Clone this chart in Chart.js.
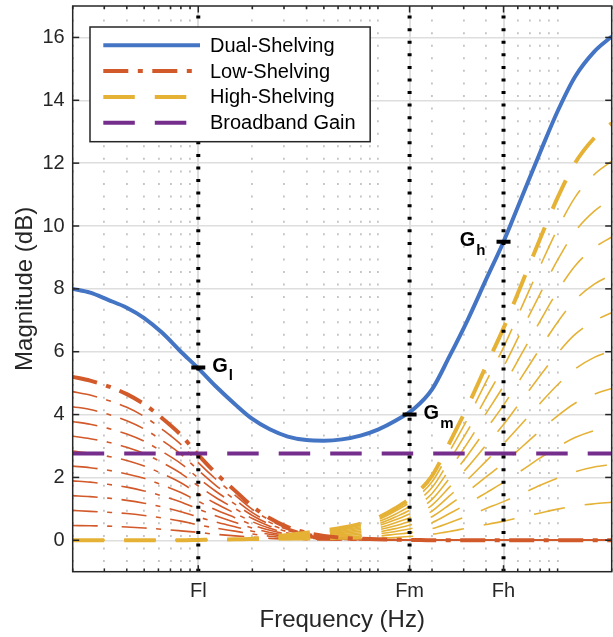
<!DOCTYPE html>
<html>
<head>
<meta charset="utf-8">
<script src="https://cdn.jsdelivr.net/npm/chart.js@4.4.0/dist/chart.umd.min.js"></script>
<style>
  html, body { margin: 0; padding: 0; background: #fff; }
</style>
</head>
<body>
<canvas id="shelfChart" width="613" height="637"></canvas>
<script>
// Third-octave frequencies used for every response curve (Hz)
const freqs = [20, 25, 31.5, 40, 50, 63, 80, 100, 125, 160, 200, 250, 315, 400, 500, 630, 800,
  1000, 1250, 1600, 2000, 2500, 3150, 4000, 5000, 6300, 8000, 10000, 12500, 16000, 20000];

// Magnitude responses (dB)
const dualShelving = [8.0, 7.88, 7.65, 7.4, 7.07, 6.6, 6.0, 5.47, 4.9, 4.33, 3.86, 3.53, 3.3, 3.19, 3.17, 3.21, 3.33,
  3.52, 3.8, 4.2, 4.8, 5.85, 7.0, 8.3, 9.5, 10.9, 12.35, 13.65, 14.75, 15.55, 16.03];
const lowShelving = [5.2, 5.08, 4.9, 4.65, 4.33, 3.88, 3.35, 2.72, 2.14, 1.58, 1.08, 0.7, 0.42, 0.24, 0.14, 0.08, 0.05,
  0.03, 0.02, 0.01, 0, 0, 0, 0, 0, 0, 0, 0, 0, 0, 0];
const highShelving = [0, 0, 0, 0, 0, 0, 0, 0.01, 0.02, 0.03, 0.05, 0.1, 0.17, 0.24, 0.31, 0.4, 0.53,
  0.72, 1.02, 1.45, 2.05, 3.1, 4.25, 5.55, 6.75, 8.15, 9.6, 10.9, 12.0, 12.8, 13.27];
const broadbandFreqs = [20, 20000];
const broadbandGain = [2.76, 2.76];

// Intermediate low-shelf responses, smallest gain first
const lowShelvingSteps = [
  [0.47, 0.46, 0.45, 0.42, 0.39, 0.35, 0.30, 0.25, 0.19, 0.14, 0.10, 0.06, 0.04, 0.02, 0.01, 0.01, 0, 0, 0, 0, 0, 0, 0, 0, 0, 0, 0, 0, 0, 0, 0],
  [0.95, 0.92, 0.89, 0.85, 0.79, 0.71, 0.61, 0.49, 0.39, 0.29, 0.20, 0.13, 0.08, 0.04, 0.03, 0.01, 0.01, 0.01, 0, 0, 0, 0, 0, 0, 0, 0, 0, 0, 0, 0, 0],
  [1.42, 1.39, 1.34, 1.27, 1.18, 1.06, 0.91, 0.74, 0.58, 0.43, 0.29, 0.19, 0.11, 0.07, 0.04, 0.02, 0.01, 0.01, 0.01, 0, 0, 0, 0, 0, 0, 0, 0, 0, 0, 0, 0],
  [1.89, 1.85, 1.78, 1.69, 1.57, 1.41, 1.22, 0.99, 0.78, 0.57, 0.39, 0.25, 0.15, 0.09, 0.05, 0.03, 0.02, 0.01, 0.01, 0, 0, 0, 0, 0, 0, 0, 0, 0, 0, 0, 0],
  [2.36, 2.31, 2.23, 2.11, 1.97, 1.76, 1.52, 1.24, 0.97, 0.72, 0.49, 0.32, 0.19, 0.11, 0.06, 0.04, 0.02, 0.01, 0.01, 0, 0, 0, 0, 0, 0, 0, 0, 0, 0, 0, 0],
  [2.84, 2.77, 2.67, 2.54, 2.36, 2.12, 1.83, 1.48, 1.17, 0.86, 0.59, 0.38, 0.23, 0.13, 0.08, 0.04, 0.03, 0.02, 0.01, 0.01, 0, 0, 0, 0, 0, 0, 0, 0, 0, 0, 0],
  [3.31, 3.23, 3.12, 2.96, 2.76, 2.47, 2.13, 1.73, 1.36, 1.01, 0.69, 0.45, 0.27, 0.15, 0.09, 0.05, 0.03, 0.02, 0.01, 0.01, 0, 0, 0, 0, 0, 0, 0, 0, 0, 0, 0],
  [3.78, 3.69, 3.56, 3.38, 3.15, 2.82, 2.44, 1.98, 1.56, 1.15, 0.79, 0.51, 0.31, 0.17, 0.10, 0.06, 0.04, 0.02, 0.01, 0.01, 0, 0, 0, 0, 0, 0, 0, 0, 0, 0, 0],
  [4.25, 4.16, 4.01, 3.80, 3.54, 3.17, 2.74, 2.23, 1.75, 1.29, 0.88, 0.57, 0.34, 0.20, 0.11, 0.07, 0.04, 0.02, 0.02, 0.01, 0, 0, 0, 0, 0, 0, 0, 0, 0, 0, 0],
  [4.73, 4.62, 4.45, 4.23, 3.94, 3.53, 3.05, 2.47, 1.95, 1.44, 0.98, 0.64, 0.38, 0.22, 0.13, 0.07, 0.05, 0.03, 0.02, 0.01, 0, 0, 0, 0, 0, 0, 0, 0, 0, 0, 0]
];

// Intermediate high-shelf responses, smallest gain first
const highShelvingSteps = [
  [0, 0, 0, 0, 0, 0, 0, 0, 0, 0, 0, 0.01, 0.02, 0.02, 0.03, 0.04, 0.05, 0.07, 0.09, 0.13, 0.19, 0.28, 0.39, 0.50, 0.61, 0.74, 0.87, 0.99, 1.09, 1.16, 1.21],
  [0, 0, 0, 0, 0, 0, 0, 0, 0, 0.01, 0.01, 0.02, 0.03, 0.04, 0.06, 0.07, 0.10, 0.13, 0.19, 0.26, 0.37, 0.56, 0.77, 1.01, 1.23, 1.48, 1.75, 1.98, 2.18, 2.33, 2.41],
  [0, 0, 0, 0, 0, 0, 0, 0, 0.01, 0.01, 0.01, 0.03, 0.05, 0.07, 0.08, 0.11, 0.14, 0.20, 0.28, 0.40, 0.56, 0.85, 1.16, 1.51, 1.84, 2.22, 2.62, 2.97, 3.27, 3.49, 3.62],
  [0, 0, 0, 0, 0, 0, 0, 0, 0.01, 0.01, 0.02, 0.04, 0.06, 0.09, 0.11, 0.15, 0.19, 0.26, 0.37, 0.53, 0.75, 1.13, 1.55, 2.02, 2.45, 2.96, 3.49, 3.96, 4.36, 4.65, 4.83],
  [0, 0, 0, 0, 0, 0, 0, 0, 0.01, 0.01, 0.02, 0.05, 0.08, 0.11, 0.14, 0.18, 0.24, 0.33, 0.46, 0.66, 0.93, 1.41, 1.93, 2.52, 3.07, 3.70, 4.36, 4.95, 5.45, 5.82, 6.03],
  [0, 0, 0, 0, 0, 0, 0, 0.01, 0.01, 0.02, 0.03, 0.05, 0.09, 0.13, 0.17, 0.22, 0.29, 0.39, 0.56, 0.79, 1.12, 1.69, 2.32, 3.03, 3.68, 4.45, 5.24, 5.95, 6.55, 6.98, 7.24],
  [0, 0, 0, 0, 0, 0, 0, 0.01, 0.01, 0.02, 0.03, 0.06, 0.11, 0.15, 0.20, 0.25, 0.34, 0.46, 0.65, 0.92, 1.30, 1.97, 2.70, 3.53, 4.30, 5.19, 6.11, 6.94, 7.64, 8.15, 8.45],
  [0, 0, 0, 0, 0, 0, 0, 0.01, 0.01, 0.02, 0.04, 0.07, 0.12, 0.17, 0.23, 0.29, 0.39, 0.52, 0.74, 1.05, 1.49, 2.25, 3.09, 4.04, 4.91, 5.93, 6.98, 7.93, 8.73, 9.31, 9.65],
  [0, 0, 0, 0, 0, 0, 0, 0.01, 0.02, 0.02, 0.04, 0.08, 0.14, 0.20, 0.25, 0.33, 0.43, 0.59, 0.83, 1.19, 1.68, 2.54, 3.48, 4.54, 5.52, 6.67, 7.85, 8.92, 9.82, 10.47, 10.86],
  [0, 0, 0, 0, 0, 0, 0, 0.01, 0.02, 0.03, 0.05, 0.09, 0.15, 0.22, 0.28, 0.36, 0.48, 0.65, 0.93, 1.32, 1.86, 2.82, 3.86, 5.05, 6.14, 7.41, 8.73, 9.91, 10.91, 11.64, 12.06]
];

// Band frequencies, their tick labels and the gains set at each band
const bandFreqs = [100, 1500, 5000];
const bandLabels = ['Fl', 'Fm', 'Fh'];
const bandGains = [5.5, 4.0, 9.5];
const gainSubscripts = ['l', 'm', 'h'];

// Axis limits and magnitude ticks
const freqRange = [20, 20000];
const magRange = [-1, 17];
const magTicks = [0, 2, 4, 6, 8, 10, 12, 14, 16];

const FONT = "'Liberation Sans', Arial, Helvetica, sans-serif";
const AXIS_COLOR = '#262626';
const BLUE = '#4474C4';
const ORANGE = '#D2592A';
const YELLOW = '#E5B236';
const PURPLE = '#762E8D';
const DASH_LONG = [31.5, 20];
const DASH_DOT = [25, 9.5, 5, 9.5];

const toPoints = (xs, ys) => xs.map((f, i) => ({ x: f, y: ys[i] }));
const isBand = (v) => bandFreqs.includes(v);

function curve(values, color, width, dash, order, extra = {}) {
  return {
    data: toPoints(freqs, values),
    borderColor: color,
    borderWidth: width,
    borderDash: dash,
    borderCapStyle: 'butt',
    pointRadius: 0,
    fill: false,
    cubicInterpolationMode: 'monotone',
    order,
    ...extra,
  };
}

const datasets = [];

// gain markers on top of everything
datasets.push({
  data: toPoints(bandFreqs, bandGains),
  showLine: false,
  pointStyle: 'line',
  pointRadius: 7,
  pointBorderWidth: 4,
  pointBorderColor: '#000',
  pointBackgroundColor: '#000',
  order: 0,
});

// dotted band markers spanning the whole magnitude range
bandFreqs.forEach((f) => {
  datasets.push({
    data: [{ x: f, y: magRange[0] }, { x: f, y: magRange[1] }],
    borderColor: '#000',
    borderWidth: 4,
    borderDash: [3, 9.57],
    borderCapStyle: 'butt',
    pointRadius: 0,
    order: 1,
  });
});

datasets.push(curve(dualShelving, BLUE, 4, [], 2, { label: 'Dual-Shelving', legendRank: 0 }));
datasets.push({
  data: toPoints(broadbandFreqs, broadbandGain),
  borderColor: PURPLE,
  borderWidth: 4,
  borderDash: DASH_LONG,
  borderCapStyle: 'butt',
  pointRadius: 0,
  order: 3,
  label: 'Broadband Gain',
  legendRank: 3,
});
datasets.push(curve(highShelving, YELLOW, 4, DASH_LONG, 4, { label: 'High-Shelving', legendRank: 2 }));
datasets.push(curve(lowShelving, ORANGE, 4, DASH_DOT, 5, { label: 'Low-Shelving', legendRank: 1 }));
highShelvingSteps.forEach((vals) => datasets.push(curve(vals, YELLOW, 1.6, DASH_LONG, 6)));
lowShelvingSteps.forEach((vals) => datasets.push(curve(vals, ORANGE, 1.6, DASH_DOT, 7)));

// Box, inward ticks, gain labels and the legend
const axisDecor = {
  id: 'axisDecor',
  afterDatasetsDraw(chart) {
    const { ctx, chartArea: area, scales: { x, y } } = chart;
    ctx.save();

    // gain labels next to the markers
    bandFreqs.forEach((f, i) => {
      const mx = x.getPixelForValue(f);
      const my = y.getPixelForValue(bandGains[i]);
      ctx.fillStyle = '#000';
      ctx.textBaseline = 'alphabetic';
      ctx.font = `bold 20px ${FONT}`;
      const gw = ctx.measureText('G').width;
      ctx.font = `bold 15px ${FONT}`;
      const sw = ctx.measureText(gainSubscripts[i]).width;
      let gx = mx + 14;
      if (i === 2) gx = mx - 18 - sw - 1 - gw;
      ctx.font = `bold 20px ${FONT}`;
      ctx.fillText('G', gx, my + 4.5);
      ctx.font = `bold 15px ${FONT}`;
      ctx.fillText(gainSubscripts[i], gx + gw + 1, my + 13);
    });

    // axes box
    ctx.strokeStyle = AXIS_COLOR;
    ctx.lineWidth = 1.5;
    ctx.setLineDash([]);
    ctx.strokeRect(area.left, area.top, area.right - area.left, area.bottom - area.top);

    const seg = (x1, y1, x2, y2) => {
      ctx.beginPath();
      ctx.moveTo(x1, y1);
      ctx.lineTo(x2, y2);
      ctx.stroke();
    };
    x.ticks.forEach((t) => {
      const px = x.getPixelForValue(t.value);
      const len = isBand(t.value) ? 6.5 : 3.3;
      seg(px, area.bottom, px, area.bottom - len);
      seg(px, area.top, px, area.top + len);
    });
    y.ticks.forEach((t) => {
      const py = y.getPixelForValue(t.value);
      seg(area.left, py, area.left + 6.5, py);
      seg(area.right, py, area.right - 6.5, py);
    });

    // legend
    const entries = chart.data.datasets
      .filter((d) => d.legendRank !== undefined)
      .sort((a, b) => a.legendRank - b.legendRank);
    ctx.font = `20px ${FONT}`;
    const textW = Math.max(...entries.map((d) => ctx.measureText(d.label).width));
    const bx = area.left + 17.3;
    const by = area.top + 21;
    const bw = 120 + textW + 14.5;
    const bh = 18.3 + 25.8 * (entries.length - 1) + 19;
    ctx.fillStyle = '#fff';
    ctx.fillRect(bx, by, bw, bh);
    ctx.lineWidth = 1.5;
    ctx.strokeStyle = AXIS_COLOR;
    ctx.strokeRect(bx, by, bw, bh);
    entries.forEach((d, i) => {
      const ry = by + 18.3 + i * 25.8;
      ctx.save();
      ctx.strokeStyle = d.borderColor;
      ctx.lineWidth = d.borderWidth;
      ctx.lineCap = 'butt';
      ctx.setLineDash(d.borderDash || []);
      seg(bx + 13.3, ry, bx + 110, ry);
      ctx.restore();
      ctx.fillStyle = '#000';
      ctx.textBaseline = 'middle';
      ctx.textAlign = 'left';
      ctx.fillText(d.label, bx + 120, ry + 1);
    });

    ctx.restore();
  },
};

new Chart(document.getElementById('shelfChart'), {
  type: 'line',
  data: { datasets },
  options: {
    responsive: false,
    animation: false,
    events: [],
    layout: { autoPadding: false, padding: { left: 0, top: 6, right: 1.3, bottom: 0 } },
    plugins: { legend: { display: false }, tooltip: { enabled: false } },
    scales: {
      x: {
        type: 'logarithmic',
        position: 'bottom',
        min: freqRange[0],
        max: freqRange[1],
        afterBuildTicks(scale) {
          const vals = [];
          for (let dec = 10; dec <= 10000; dec *= 10) {
            for (let m = 1; m <= 9; m++) {
              const v = m * dec;
              if (v >= freqRange[0] && v <= freqRange[1]) vals.push(v);
            }
          }
          bandFreqs.forEach((f) => { if (!vals.includes(f)) vals.push(f); });
          vals.sort((a, b) => a - b);
          scale.ticks = vals.map((v) => ({ value: v }));
        },
        afterFit(scale) {
          scale.height = 65.3;
          scale.paddingLeft = 0;
          scale.paddingRight = 0;
        },
        ticks: {
          autoSkip: false,
          maxRotation: 0,
          minRotation: 0,
          padding: 8,
          color: AXIS_COLOR,
          font: { family: FONT, size: 20 },
          callback(value, index, ticks) {
            const i = bandFreqs.indexOf(ticks[index].value);
            return i >= 0 ? bandLabels[i] : '';
          },
        },
        grid: {
          drawTicks: false,
          color: (c) => (c.tick && isBand(c.tick.value) ? '#dedede' : '#c4c4c4'),
          lineWidth: (c) => (c.tick && isBand(c.tick.value) ? 2 : 1.8),
        },
        border: {
          display: false,
          dash: (c) => (c.tick && isBand(c.tick.value) ? [] : [2, 10.57]),
          dashOffset: -1,
        },
        title: {
          display: true,
          text: 'Frequency (Hz)',
          color: AXIS_COLOR,
          font: { family: FONT, size: 24 },
          padding: { top: 0, bottom: 2 },
        },
      },
      y: {
        min: magRange[0],
        max: magRange[1],
        afterBuildTicks(scale) {
          scale.ticks = magTicks.map((v) => ({ value: v }));
        },
        afterFit(scale) {
          scale.width = 72.7;
          scale.paddingTop = 0;
          scale.paddingBottom = 0;
        },
        ticks: {
          padding: 8,
          color: AXIS_COLOR,
          font: { family: FONT, size: 20 },
        },
        grid: { drawTicks: false, color: '#dedede', lineWidth: 1.5 },
        border: { display: false },
        title: {
          display: true,
          text: 'Magnitude (dB)',
          color: AXIS_COLOR,
          font: { family: FONT, size: 24 },
          padding: { top: 11, bottom: 0 },
        },
      },
    },
  },
  plugins: [axisDecor],
});
</script>
</body>
</html>
